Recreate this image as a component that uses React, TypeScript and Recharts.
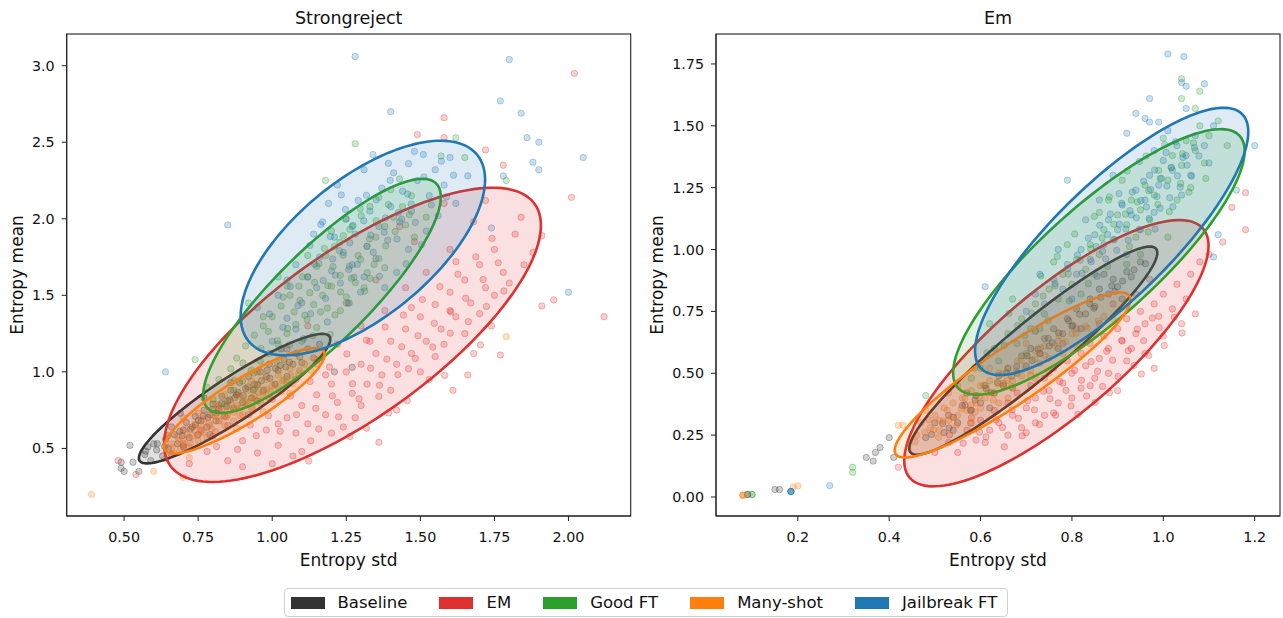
import React from 'react';
import { ScatterChart, Scatter, XAxis, YAxis } from 'recharts';

type P = [number, number];

const groups = ['Baseline', 'EM', 'Good FT', 'Many-shot', 'Jailbreak FT'];
const colors = ['#333333', '#df3030', '#2ca02c', '#ff7f0e', '#1f77b4'];

const srXTicks = [0.5, 0.75, 1.0, 1.25, 1.5, 1.75, 2.0];
const srYTicks = [0.5, 1.0, 1.5, 2.0, 2.5, 3.0];
const emXTicks = [0.2, 0.4, 0.6, 0.8, 1.0, 1.2];
const emYTicks = [0, 0.25, 0.5, 0.75, 1.0, 1.25, 1.5, 1.75];

// ---------- Strongreject points ----------
const srBase: P[] = [
  [0.52,0.52],[0.49,0.41],[0.49,0.37],[0.50,0.35],[0.55,0.35],[0.53,0.41],[0.57,0.46],[0.59,0.42],[0.61,0.49],[0.60,0.53],
  [0.63,0.45],[0.64,0.56],[0.65,0.50],[0.66,0.46],[0.67,0.59],[0.68,0.53],[0.70,0.62],[0.70,0.51],[0.71,0.67],[0.72,0.57],
  [0.73,0.64],[0.74,0.71],[0.75,0.59],[0.76,0.68],[0.77,0.75],[0.78,0.64],[0.79,0.72],[0.80,0.79],[0.81,0.68],[0.82,0.76],
  [0.83,0.84],[0.84,0.71],[0.85,0.81],[0.86,0.88],[0.87,0.76],[0.88,0.85],[0.89,0.93],[0.90,0.80],[0.91,0.89],[0.92,0.97],
  [0.93,0.83],[0.94,0.92],[0.96,1.00],[0.97,0.88],[0.98,0.97],[0.99,1.05],[1.01,0.92],[1.02,1.01],[1.04,1.08],[1.05,0.97],
  [1.07,1.05],[1.08,1.12],[1.10,1.06],[1.12,1.15],[1.14,1.09],[1.16,1.18],[0.69,0.73],[0.77,0.83],[0.95,0.81],[1.03,1.15],
  [0.66,0.64],[0.58,0.51],[0.86,0.93],[0.79,0.59],[1.21,1.00],[1.27,1.03],
  [0.612,0.531],[0.647,0.583],[0.688,0.611],[0.724,0.626],[0.751,0.684],[0.783,0.702],[0.812,0.731],[0.846,0.775],[0.873,0.832],
  [0.902,0.846],[0.936,0.881],[0.964,0.942],[0.992,0.958],[1.027,1.041],[1.058,1.063],[1.093,1.098],[0.696,0.583],[0.741,0.653],
  [0.767,0.712],[0.798,0.755],[0.829,0.793],[0.857,0.818],[0.884,0.867],[0.918,0.902],[0.951,0.915],[0.983,1.011],[1.011,1.022],
  [1.046,1.032],[0.573,0.482],[0.637,0.512],
];
const srEm: P[] = [
  [2.02,2.95],[1.58,2.66],[1.49,2.55],[1.58,2.53],[1.72,2.45],[1.78,2.35],[2.01,2.14],[2.12,1.36],[1.95,1.47],[1.91,1.89],
  [1.84,2.01],[1.91,1.43],[1.77,1.11],[1.66,0.98],[1.61,0.88],[1.36,0.54],[0.48,0.42],[0.54,0.33],
  [0.72,0.40],[0.78,0.48],[0.85,0.42],[0.90,0.55],[0.95,0.47],[0.98,0.62],[1.02,0.52],[1.05,0.70],[1.08,0.60],[1.10,0.78],
  [1.12,0.66],[1.15,0.85],[1.18,0.72],[1.20,0.92],[1.22,0.80],[1.25,1.00],[1.27,0.86],[1.30,1.05],[1.32,0.92],[1.35,1.12],
  [1.37,0.98],[1.40,1.20],[1.42,1.05],[1.45,1.28],[1.47,1.12],[1.50,1.36],[1.52,1.20],[1.55,1.44],[1.57,1.28],[1.60,1.52],
  [1.62,1.36],[1.65,1.60],[1.67,1.45],[1.70,1.70],[1.72,1.55],[1.75,1.80],[1.78,1.65],[1.82,1.90],[1.60,1.80],[1.52,1.65],
  [1.45,1.55],[1.38,1.40],[1.30,1.30],[1.22,1.18],[1.15,1.05],[1.08,0.95],[1.00,0.82],[0.92,0.72],[0.85,0.65],[0.80,0.58],
  [1.40,0.88],[1.50,1.00],[1.30,0.78],[1.20,0.60],[1.10,0.48],[1.00,0.40],[0.90,0.38],[1.55,1.10],[1.65,1.25],[1.70,1.38],
  [1.75,1.50],[1.85,1.70],[1.42,0.75],[1.62,1.72],[1.48,1.85],[1.68,1.98],[1.35,1.60],[1.25,1.45],[1.12,1.30],[1.05,1.15],
  [0.95,1.00],[0.88,0.85],[1.58,2.10],[1.72,2.12],[1.43,1.95],[1.28,0.70],[1.18,0.98],[1.33,1.20],[1.47,1.42],[0.76,0.62],
  [0.82,0.78],[1.02,0.66],[1.60,1.40],[1.80,1.58],[1.88,1.78],[1.36,0.84],[1.24,0.64],[1.53,0.95],[1.46,1.02],[1.58,1.18],
  [0.70,0.52],[1.13,0.55],[1.07,0.45],[1.68,1.12],[1.74,1.30],
  [0.812,0.512],[0.883,0.493],[0.946,0.583],[1.027,0.612],[1.082,0.721],[1.147,0.762],[1.203,0.843],[1.271,0.923],[1.332,1.024],
  [1.387,1.083],[1.437,1.164],[1.492,1.236],[1.547,1.317],[1.603,1.392],[1.653,1.481],[1.712,1.603],[1.763,1.712],[1.157,0.627],
  [1.224,0.706],[1.293,0.824],[1.362,0.913],[1.424,0.982],[1.483,1.087],[1.542,1.162],[1.601,1.253],[1.662,1.328],[1.723,1.427],
  [1.782,1.528],[0.987,0.713],[1.062,0.843],[1.128,0.937],[1.193,1.032],[1.252,1.117],[1.318,1.207],[1.381,1.293],[1.443,1.371],
  [1.507,1.472],[1.566,1.557],[1.627,1.638],[1.687,1.752],[1.742,1.872],[1.123,0.417],[1.318,0.632],[1.456,0.812],[1.582,0.977],
  [1.703,1.176],[0.926,0.652],[1.262,0.578],[1.393,0.732],
];
const srGood: P[] = [
  [0.80,0.82],[0.84,0.79],[0.82,0.95],[0.87,0.88],[0.86,1.02],[0.90,0.94],[0.88,1.09],[0.93,1.01],[0.91,1.17],[0.96,1.07],
  [0.94,1.24],[0.99,1.12],[0.97,1.30],[1.02,1.18],[1.00,1.36],[1.05,1.25],[1.03,1.43],[1.08,1.31],[1.06,1.50],[1.11,1.37],
  [1.09,1.56],[1.14,1.44],[1.12,1.62],[1.17,1.50],[1.15,1.69],[1.20,1.56],[1.18,1.76],[1.23,1.63],[1.21,1.82],[1.26,1.69],
  [1.24,1.89],[1.29,1.76],[1.27,1.95],[1.32,1.82],[1.30,2.02],[1.35,1.88],[1.33,2.08],[1.38,1.95],[1.36,2.14],[1.41,2.01],
  [1.44,2.08],[1.47,2.15],[1.40,2.19],[1.15,1.29],[1.25,1.49],[1.05,1.56],[1.20,1.92],[1.33,1.61],[0.97,1.36],[1.28,2.49],
  [1.62,2.53],[1.57,2.41],[1.18,2.25],[1.79,2.25],[1.65,2.40],[1.12,1.76],[1.36,1.74],[0.94,0.89],[1.45,1.96],[1.52,2.01],
  [0.78,0.90],[0.74,1.08],[1.43,2.26],[1.10,1.20],[1.23,1.40],[1.31,1.55],[1.02,1.62],[0.92,1.45],[1.38,1.68],[1.48,1.88],
  [1.052,1.283],[1.118,1.342],[1.186,1.417],[1.094,1.468],[1.231,1.522],[1.143,1.585],[1.267,1.611],[1.205,1.688],[1.298,1.734],
  [1.176,1.806],[1.329,1.868],[1.262,1.931],[1.351,1.987],[1.018,1.204],[0.962,1.153],[1.083,1.121],[1.137,1.236],[0.901,1.058],
  [1.212,1.372],[1.256,1.448],[1.312,1.527],[1.074,1.392],[1.158,1.707],[1.383,1.823],[1.415,1.917],[1.239,1.762],[1.281,1.583],
  [1.102,1.621],[1.037,1.488],[0.987,1.264],[1.196,1.245],[1.344,1.702],[1.463,2.027],[1.297,2.066],[1.392,2.093],[1.127,1.517],
  [1.163,1.392],[1.228,1.847],[0.938,0.992],[0.872,0.943],[1.015,1.067],[1.058,1.176],[1.248,1.996],[1.321,1.648],[1.188,1.563],
];
const srMany: P[] = [
  [0.39,0.20],[0.60,0.35],[0.70,0.31],[0.66,0.53],[0.67,0.47],[0.68,0.58],[0.69,0.50],[0.70,0.56],[0.71,0.63],[0.72,0.51],
  [0.73,0.58],[0.74,0.66],[0.75,0.55],[0.76,0.61],[0.77,0.69],[0.78,0.57],[0.79,0.65],[0.80,0.72],[0.81,0.61],[0.82,0.68],
  [0.83,0.76],[0.84,0.65],[0.85,0.72],[0.86,0.80],[0.87,0.68],[0.88,0.76],[0.89,0.84],[0.90,0.72],[0.91,0.80],[0.92,0.88],
  [0.93,0.76],[0.94,0.84],[0.95,0.92],[0.96,0.80],[0.97,0.87],[0.98,0.95],[0.99,0.83],[1.00,0.91],[1.02,0.98],[1.03,0.87],
  [1.04,0.95],[1.06,1.02],[1.07,0.92],[1.09,0.99],[1.11,1.05],[1.13,1.01],[0.75,0.73],[0.84,0.85],[0.97,0.74],[1.06,0.86],
  [1.79,1.23],[0.88,0.63],[0.72,0.44],[0.81,0.79],[0.93,0.94],[0.64,0.43],[1.15,1.08],[0.70,0.70],
  [0.683,0.552],[0.712,0.587],[0.738,0.621],[0.759,0.648],[0.787,0.663],[0.808,0.712],[0.833,0.721],[0.857,0.758],[0.882,0.781],
  [0.907,0.812],[0.929,0.829],[0.954,0.866],[0.981,0.887],[1.008,0.918],[1.034,0.941],[1.062,0.976],[1.093,1.008],[0.724,0.534],
  [0.768,0.603],[0.796,0.627],[0.821,0.679],[0.846,0.703],[0.871,0.736],[0.896,0.768],[0.918,0.787],[0.942,0.821],[0.968,0.848],
  [0.994,0.872],[1.021,0.896],[1.048,0.932],[0.662,0.507],[0.701,0.532],[0.747,0.586],[0.892,0.713],[0.933,0.768],
];
const srJb: P[] = [
  [1.28,3.06],[1.80,3.04],[1.77,2.77],[1.84,2.69],[1.40,2.70],[1.86,2.53],[1.90,2.50],[2.05,2.40],[1.88,2.37],[1.90,2.32],
  [1.78,2.28],[0.85,1.96],[2.00,1.52],[0.64,1.00],[1.74,1.94],
  [1.00,1.20],[1.05,1.35],[1.02,1.50],[1.08,1.28],[1.10,1.45],[1.12,1.62],[1.13,1.38],[1.15,1.55],[1.16,1.75],[1.18,1.48],
  [1.20,1.66],[1.21,1.88],[1.23,1.58],[1.24,1.78],[1.25,2.00],[1.27,1.70],[1.28,1.90],[1.29,2.12],[1.31,1.62],[1.32,1.82],
  [1.33,2.05],[1.35,1.74],[1.36,1.95],[1.37,2.20],[1.39,1.86],[1.40,2.08],[1.41,2.30],[1.43,1.98],[1.44,2.18],[1.46,2.36],
  [1.47,2.05],[1.49,2.25],[1.51,2.42],[1.53,2.15],[1.55,2.32],[1.58,2.22],[1.60,2.40],[1.62,2.10],[1.46,1.80],[1.38,1.55],
  [1.26,1.45],[1.14,1.90],[1.08,1.70],[1.52,1.92],[1.66,2.28],[1.19,2.10],[1.31,2.32],[1.56,2.02],[0.95,1.42],[1.42,1.65],
  [1.22,2.22],[1.34,2.42],[1.48,2.44],[1.05,1.60],[1.17,1.98],
  [1.213,1.632],[1.287,1.702],[1.341,1.781],[1.262,1.843],[1.378,1.912],[1.309,1.987],[1.426,2.041],[1.351,2.124],[1.457,2.162],
  [1.398,2.251],[1.172,1.597],[1.143,1.703],[1.227,1.792],[1.196,1.884],[1.273,1.956],[1.247,2.061],[1.318,2.153],[1.512,2.273],
  [1.537,2.091],[1.483,1.976],[1.421,1.868],[1.362,1.624],[1.298,1.521],[1.087,1.432],[1.061,1.558],[1.127,1.826],[1.164,1.962],
  [1.233,2.156],[1.392,2.362],[1.571,2.376],[1.612,2.284],[1.588,2.143],[1.504,1.831],[1.452,1.706],[1.036,1.291],[0.991,1.378],
  [1.106,1.217],[1.186,1.326],[1.276,1.618],[1.333,1.893],[1.437,1.998],[1.469,2.097],[1.382,2.006],[1.204,1.738],[1.258,1.668],
];

// ---------- Em points ----------
const emBase: P[] = [
  [0.09,0.01],[0.09,0.01],[0.15,0.03],[0.16,0.03],[0.35,0.16],[0.365,0.145],[0.37,0.18],[0.38,0.20],[0.40,0.24],[0.41,0.16],
  [0.48,0.24],[0.50,0.30],[0.52,0.26],[0.53,0.33],[0.55,0.30],[0.56,0.37],[0.58,0.35],[0.59,0.41],[0.60,0.38],[0.61,0.45],
  [0.63,0.42],[0.64,0.49],[0.65,0.45],[0.66,0.52],[0.68,0.50],[0.69,0.57],[0.70,0.53],[0.71,0.60],[0.73,0.58],[0.74,0.64],
  [0.75,0.61],[0.76,0.68],[0.78,0.66],[0.79,0.72],[0.80,0.69],[0.81,0.76],[0.83,0.74],[0.84,0.80],[0.85,0.77],[0.86,0.84],
  [0.88,0.82],[0.89,0.88],[0.90,0.85],[0.92,0.91],[0.93,0.89],[0.95,0.95],[0.57,0.42],[0.67,0.44],[0.72,0.67],[0.82,0.68],
  [0.87,0.90],[0.62,0.36],[0.77,0.60],[0.91,0.80],[0.54,0.27],
  [0.493,0.253],[0.517,0.297],[0.541,0.322],[0.566,0.371],[0.588,0.392],[0.612,0.438],[0.637,0.463],[0.657,0.502],[0.679,0.527],
  [0.702,0.571],[0.726,0.597],[0.748,0.641],[0.771,0.663],[0.793,0.712],[0.817,0.738],[0.839,0.781],[0.863,0.807],[0.887,0.853],
  [0.911,0.873],[0.936,0.918],[0.961,0.943],[0.531,0.279],[0.578,0.351],[0.623,0.421],[0.668,0.488],[0.713,0.552],[0.757,0.623],
  [0.802,0.693],[0.848,0.763],[0.894,0.831],
];
const emEm: P[] = [
  [0.42,0.12],[1.18,1.23],[1.15,1.17],[1.18,1.08],[1.13,1.03],[0.98,0.52],[0.90,0.43],
  [0.50,0.18],[0.53,0.22],[0.55,0.18],[0.57,0.27],[0.59,0.23],[0.60,0.31],[0.62,0.27],[0.63,0.35],[0.64,0.30],[0.66,0.38],
  [0.67,0.33],[0.68,0.42],[0.70,0.36],[0.71,0.45],[0.72,0.40],[0.74,0.48],[0.75,0.43],[0.76,0.52],[0.78,0.46],[0.79,0.55],
  [0.80,0.50],[0.82,0.58],[0.83,0.53],[0.84,0.62],[0.86,0.56],[0.87,0.65],[0.88,0.60],[0.90,0.68],[0.91,0.63],[0.92,0.72],
  [0.94,0.66],[0.95,0.75],[0.96,0.70],[0.98,0.78],[0.99,0.73],[1.00,0.82],[1.02,0.76],[1.03,0.86],[1.05,0.80],[1.06,0.90],
  [1.08,0.95],[0.93,0.60],[0.85,0.48],[0.77,0.38],[0.69,0.28],[0.61,0.22],[0.97,0.88],[0.89,0.78],[0.81,0.68],[0.73,0.58],
  [0.65,0.46],[1.00,0.65],[0.92,0.55],[0.84,0.45],[0.76,0.34],[1.04,0.70],[0.96,0.58],[0.88,0.50],[0.80,0.40],[0.72,0.30],
  [0.66,0.25],[0.58,0.32],[1.10,0.98],[1.07,0.74],[0.94,0.82],[0.86,0.70],[0.78,0.62],[0.74,0.33],[0.82,0.44],[0.70,0.26],
  [0.612,0.243],[0.648,0.281],[0.683,0.318],[0.718,0.352],[0.752,0.397],[0.787,0.431],[0.821,0.472],[0.856,0.508],[0.889,0.553],
  [0.923,0.591],[0.957,0.632],[0.991,0.684],[1.024,0.727],[0.634,0.312],[0.669,0.352],[0.703,0.389],[0.738,0.427],[0.773,0.467],
  [0.806,0.512],[0.842,0.547],[0.876,0.589],[0.909,0.633],[0.943,0.678],[0.976,0.723],[0.562,0.217],[0.598,0.262],[0.729,0.293],
  [0.764,0.331],[0.798,0.368],[0.832,0.408],[0.867,0.447],[0.901,0.487],[0.936,0.531],[0.968,0.572],[1.002,0.612],[1.041,0.663],
  [0.652,0.203],[0.691,0.247],[0.813,0.334],[0.851,0.382],[0.882,0.421],[0.952,0.497],[0.532,0.251],[0.578,0.298],
];
const emGood: P[] = [
  [0.10,0.01],[0.10,0.01],[0.32,0.12],[0.32,0.10],[0.48,0.41],[1.04,1.69],[1.08,1.64],[1.04,1.61],[1.07,1.57],
  [0.60,0.52],[0.63,0.60],[0.64,0.55],[0.66,0.66],[0.68,0.62],[0.69,0.72],[0.71,0.68],[0.72,0.78],[0.74,0.74],[0.75,0.84],
  [0.77,0.80],[0.78,0.90],[0.80,0.86],[0.81,0.96],[0.83,0.92],[0.84,1.02],[0.86,0.98],[0.87,1.08],[0.89,1.04],[0.90,1.14],
  [0.92,1.10],[0.93,1.20],[0.95,1.16],[0.96,1.26],[0.98,1.22],[0.99,1.32],[1.01,1.28],[1.02,1.38],[1.04,1.34],[1.05,1.44],
  [1.07,1.40],[1.08,1.50],[1.10,1.46],[1.12,1.52],[0.76,0.95],[0.82,0.82],[0.88,1.20],[0.94,1.05],[1.00,1.45],[1.06,1.25],
  [0.70,0.58],[0.79,1.02],[0.85,0.90],[0.91,1.28],[0.97,1.12],[1.03,1.20],[0.67,0.80],[0.73,0.68],[1.09,1.35],[0.62,0.70],
  [0.58,0.48],[1.14,1.42],[0.95,0.98],[0.86,1.15],[1.01,1.05],[0.92,0.94],
  [0.681,0.693],[0.712,0.742],[0.737,0.812],[0.763,0.853],[0.792,0.901],[0.818,0.957],[0.841,1.003],[0.866,1.047],[0.892,1.102],
  [0.917,1.143],[0.943,1.192],[0.968,1.238],[0.993,1.287],[1.017,1.332],[1.042,1.387],[1.066,1.431],[0.732,0.893],[0.768,0.972],
  [0.806,1.063],[0.849,1.134],[0.882,1.213],[0.921,1.317],[0.962,1.378],[1.003,1.424],[0.652,0.613],[0.697,0.652],[0.748,0.713],
  [0.794,0.792],[0.836,0.862],[0.878,0.931],[0.926,1.012],[0.967,1.071],[1.013,1.153],[1.056,1.232],[1.093,1.287],[0.614,0.583],
  [0.587,0.521],[0.662,0.742],[0.988,1.182],[1.038,1.267],
];
const emMany: P[] = [
  [0.08,0.007],[0.08,0.007],[0.08,0.007],[0.19,0.04],[0.20,0.045],[0.42,0.29],[0.43,0.29],
  [0.46,0.25],[0.47,0.30],[0.49,0.28],[0.50,0.33],[0.51,0.27],[0.52,0.36],[0.53,0.31],[0.54,0.38],[0.55,0.33],[0.56,0.40],
  [0.57,0.35],[0.58,0.43],[0.59,0.38],[0.60,0.45],[0.61,0.40],[0.62,0.47],[0.63,0.42],[0.64,0.50],[0.65,0.45],[0.66,0.52],
  [0.67,0.47],[0.68,0.55],[0.69,0.49],[0.70,0.57],[0.71,0.51],[0.72,0.59],[0.73,0.54],[0.74,0.61],[0.75,0.56],[0.77,0.63],
  [0.78,0.58],[0.80,0.66],[0.81,0.61],[0.83,0.69],[0.85,0.66],[0.87,0.73],[0.89,0.72],[0.53,0.42],[0.58,0.30],[0.62,0.52],
  [0.66,0.40],[0.70,0.62],[0.75,0.50],[0.48,0.35],[0.55,0.45],[0.64,0.38],[0.72,0.48],[0.51,0.31],[0.60,0.36],
  [0.457,0.223],[0.478,0.262],[0.497,0.272],[0.518,0.307],[0.537,0.323],[0.558,0.357],[0.579,0.371],[0.598,0.408],[0.617,0.421],
  [0.638,0.457],[0.659,0.471],[0.678,0.508],[0.699,0.523],[0.719,0.558],[0.741,0.572],[0.763,0.611],[0.786,0.628],[0.809,0.662],
  [0.834,0.682],[0.858,0.712],[0.487,0.312],[0.527,0.351],[0.566,0.398],[0.607,0.452],[0.648,0.497],[0.689,0.551],[0.731,0.603],
  [0.772,0.651],[0.508,0.241],[0.548,0.291],[0.588,0.343],[0.628,0.392],[0.668,0.446],[0.709,0.493],
];
const emJb: P[] = [
  [0.185,0.022],[0.185,0.022],[0.185,0.022],[0.185,0.022],[0.27,0.046],[1.01,1.79],[1.045,1.78],[1.04,1.675],[1.05,1.66],
  [1.09,1.67],[0.97,1.61],[1.05,1.57],[0.94,1.55],[0.96,1.53],[0.97,1.515],[0.99,1.515],[0.92,1.47],[1.20,1.42],[1.16,1.24],
  [1.12,1.06],[1.11,0.97],[0.79,1.28],[0.61,0.85],
  [0.70,0.75],[0.72,0.82],[0.74,0.78],[0.76,0.88],[0.78,0.84],[0.79,0.94],[0.81,0.90],[0.82,1.00],[0.84,0.96],[0.85,1.06],
  [0.87,1.02],[0.88,1.12],[0.90,1.08],[0.91,1.18],[0.93,1.14],[0.94,1.24],[0.96,1.20],[0.97,1.30],[0.99,1.26],[1.00,1.36],
  [1.02,1.32],[1.03,1.42],[1.05,1.38],[1.07,1.46],[1.09,1.42],[1.11,1.50],[0.86,1.20],[0.92,0.98],[0.98,1.40],[1.04,1.22],
  [0.80,0.80],[0.89,1.30],[0.95,1.08],[1.01,1.48],[1.06,1.30],[0.83,1.12],[0.77,1.00],[0.73,0.90],[1.10,1.35],[0.98,1.15],
  [0.842,0.951],[0.867,0.993],[0.893,1.041],[0.918,1.083],[0.941,1.128],[0.963,1.172],[0.986,1.214],[1.008,1.257],[1.031,1.298],
  [1.052,1.341],[0.822,0.904],[0.853,1.012],[0.878,1.061],[0.904,1.102],[0.927,1.157],[0.951,1.198],[0.972,1.243],[0.996,1.287],
  [1.018,1.331],[1.043,1.372],[0.812,0.978],[0.836,1.046],[0.861,1.098],[0.884,1.143],[0.909,1.187],[0.932,1.232],[0.957,1.276],
  [0.981,1.321],[1.006,1.392],[1.027,1.436],[0.874,0.962],[0.898,0.997],[0.923,1.038],[0.947,1.081],[0.969,1.126],[0.993,1.167],
  [1.014,1.209],[1.037,1.252],[1.062,1.297],[1.078,1.378],[0.763,0.862],[0.791,0.923],[0.948,1.356],[1.021,1.173],[0.903,1.226],
  [0.855,0.892],[1.068,1.412],[0.982,1.083],
];

const srPoints: P[][] = [srBase, srEm, srGood, srMany, srJb];
const emPoints: P[][] = [emBase, emEm, emGood, emMany, emJb];

// Ellipses: [centre x, centre y, half width, half height, x offset of topmost point]
const srEllipses: number[][] = [
  [0.873, 0.825, 0.323, 0.423, 0.296],
  [1.271, 1.242, 0.636, 0.961, 0.473],
  [1.168, 1.496, 0.401, 0.765, 0.339],
  [0.906, 0.811, 0.271, 0.344, 0.2375],
  [1.306, 1.809, 0.4125, 0.701, 0.2625],
];
const emEllipses: number[][] = [
  [0.7155, 0.5915, 0.2714, 0.4205, 0.2551],
  [0.766, 0.581, 0.333, 0.538, 0.269],
  [0.859, 0.95, 0.319, 0.5365, 0.2665],
  [0.67, 0.493, 0.258, 0.3335, 0.2356],
  [0.887, 1.033, 0.299, 0.54, 0.245],
];

const FONT = '"DejaVu Sans", sans-serif';

function ellipseAnchors(e: number[]) {
  const [cx, cy, w, h, top] = e;
  const k = top * h;
  const c = k / w;
  const d = Math.sqrt(Math.max(h * h - c * c, 1e-6));
  return [
    { x: cx, y: cy },
    { x: cx + w, y: cy + c },
    { x: cx, y: cy + d },
  ];
}

function makeEllipseLine(color: string) {
  return (props: any) => {
    const pts = props.points;
    if (!pts || pts.length < 3) return <g />;
    const c = pts[0], p1 = pts[1], p2 = pts[2];
    const ux = p1.x - c.x, uy = p1.y - c.y, vx = p2.x - c.x, vy = p2.y - c.y;
    let d = '';
    const n = 144;
    for (let i = 0; i <= n; i++) {
      const t = (i / n) * Math.PI * 2;
      const x = c.x + ux * Math.cos(t) + vx * Math.sin(t);
      const y = c.y + uy * Math.cos(t) + vy * Math.sin(t);
      d += (i === 0 ? 'M' : 'L') + x.toFixed(2) + ',' + y.toFixed(2);
    }
    d += 'Z';
    return <path d={d} fill={color} fillOpacity={0.15} stroke={color} strokeWidth={2.6} />;
  };
}

const noShape = () => <g />;

function makeDot(color: string) {
  return (p: any) => (
    <circle cx={p.cx} cy={p.cy} r={3.2} fill={color} fillOpacity={0.23} stroke={color} strokeOpacity={0.3} strokeWidth={1} />
  );
}

type PanelProps = {
  width: number;
  margin: { top: number; right: number; bottom: number; left: number };
  xDomain: [number, number];
  yDomain: [number, number];
  xTicks: number[];
  yTicks: number[];
  xDigits: number;
  yDigits: number;
  points: P[][];
  ellipses: number[][];
};

function Panel(props: PanelProps) {
  const tickStyle = { fontSize: 14.3, fill: '#111', fontFamily: FONT };
  return (
    <ScatterChart width={props.width} height={560} margin={props.margin}>
      <XAxis
        dataKey="x"
        type="number"
        domain={props.xDomain}
        ticks={props.xTicks}
        interval={0}
        allowDataOverflow
        height={30}
        tick={tickStyle}
        tickSize={5}
        tickMargin={11}
        tickLine={{ stroke: '#222' }}
        axisLine={{ stroke: '#222' }}
        tickFormatter={(v: number) => v.toFixed(props.xDigits)}
      />
      <YAxis
        dataKey="y"
        type="number"
        domain={props.yDomain}
        ticks={props.yTicks}
        interval={0}
        allowDataOverflow
        width={60}
        tick={tickStyle}
        tickSize={5}
        tickMargin={7}
        tickLine={{ stroke: '#222' }}
        axisLine={{ stroke: '#222' }}
        tickFormatter={(v: number) => v.toFixed(props.yDigits)}
      />
      {props.points.map((pts, i) => (
        <Scatter
          key={'pts' + i}
          name={groups[i]}
          data={pts.map(([x, y]) => ({ x, y }))}
          shape={makeDot(colors[i])}
          isAnimationActive={false}
        />
      ))}
      {props.ellipses.map((e, i) => (
        <Scatter
          key={'ell' + i}
          data={ellipseAnchors(e)}
          shape={noShape}
          line={makeEllipseLine(colors[i])}
          lineType="joint"
          isAnimationActive={false}
        />
      ))}
    </ScatterChart>
  );
}

export default function App() {
  return (
    <div style={{ position: 'absolute', left: 0, top: 0, width: 1283, height: 618, background: '#fff', overflow: 'hidden' }}>
      <div style={{ position: 'absolute', left: 0, top: 0 }}>
        <Panel
          width={650}
          margin={{ top: 34, right: 19.3, bottom: 14, left: 6.7 }}
          xDomain={[0.3063, 2.21]}
          yDomain={[0.0585, 3.207]}
          xTicks={srXTicks}
          yTicks={srYTicks}
          xDigits={2}
          yDigits={1}
          points={srPoints}
          ellipses={srEllipses}
        />
      </div>
      <div style={{ position: 'absolute', left: 650, top: 0 }}>
        <Panel
          width={633}
          margin={{ top: 34, right: 3, bottom: 14, left: 6 }}
          xDomain={[0.021, 1.2554]}
          yDomain={[-0.0768, 1.871]}
          xTicks={emXTicks}
          yTicks={emYTicks}
          xDigits={1}
          yDigits={2}
          points={emPoints}
          ellipses={emEllipses}
        />
      </div>
      <svg width={1283} height={618} style={{ position: 'absolute', left: 0, top: 0, pointerEvents: 'none' }}>
        <rect x={66.7} y={34} width={564} height={482} fill="none" stroke="#222" strokeWidth={1.1} />
        <rect x={716} y={34} width={564} height={482} fill="none" stroke="#222" strokeWidth={1.1} />
        <g fontFamily={FONT} fill="#111">
          <text x={348.7} y={24} fontSize={17.5} textAnchor="middle">Strongreject</text>
          <text x={998} y={24} fontSize={17.5} textAnchor="middle">Em</text>
          <text x={348.7} y={566} fontSize={17} textAnchor="middle">Entropy std</text>
          <text x={998} y={566} fontSize={17} textAnchor="middle">Entropy std</text>
          <text transform="translate(23,275) rotate(-90)" fontSize={17} textAnchor="middle">Entropy mean</text>
          <text transform="translate(663,275) rotate(-90)" fontSize={17} textAnchor="middle">Entropy mean</text>
        </g>
      </svg>
      <div
        style={{
          position: 'absolute',
          left: 283.5,
          top: 588,
          width: 724.5,
          height: 29,
          boxSizing: 'border-box',
          border: '1px solid #d0d0d0',
          borderRadius: 4,
          display: 'flex',
          alignItems: 'center',
          paddingLeft: 6,
          fontFamily: FONT,
          fontSize: 16.5,
          color: '#111',
          background: 'rgba(255,255,255,0.8)',
        }}
      >
        {groups.map((g, i) => (
          <div key={g} style={{ display: 'flex', alignItems: 'center', marginRight: i < groups.length - 1 ? 32 : 0 }}>
            <div style={{ width: 34, height: 12, background: colors[i], marginRight: 13 }} />
            <span style={{ whiteSpace: 'nowrap' }}>{g}</span>
          </div>
        ))}
      </div>
    </div>
  );
}
